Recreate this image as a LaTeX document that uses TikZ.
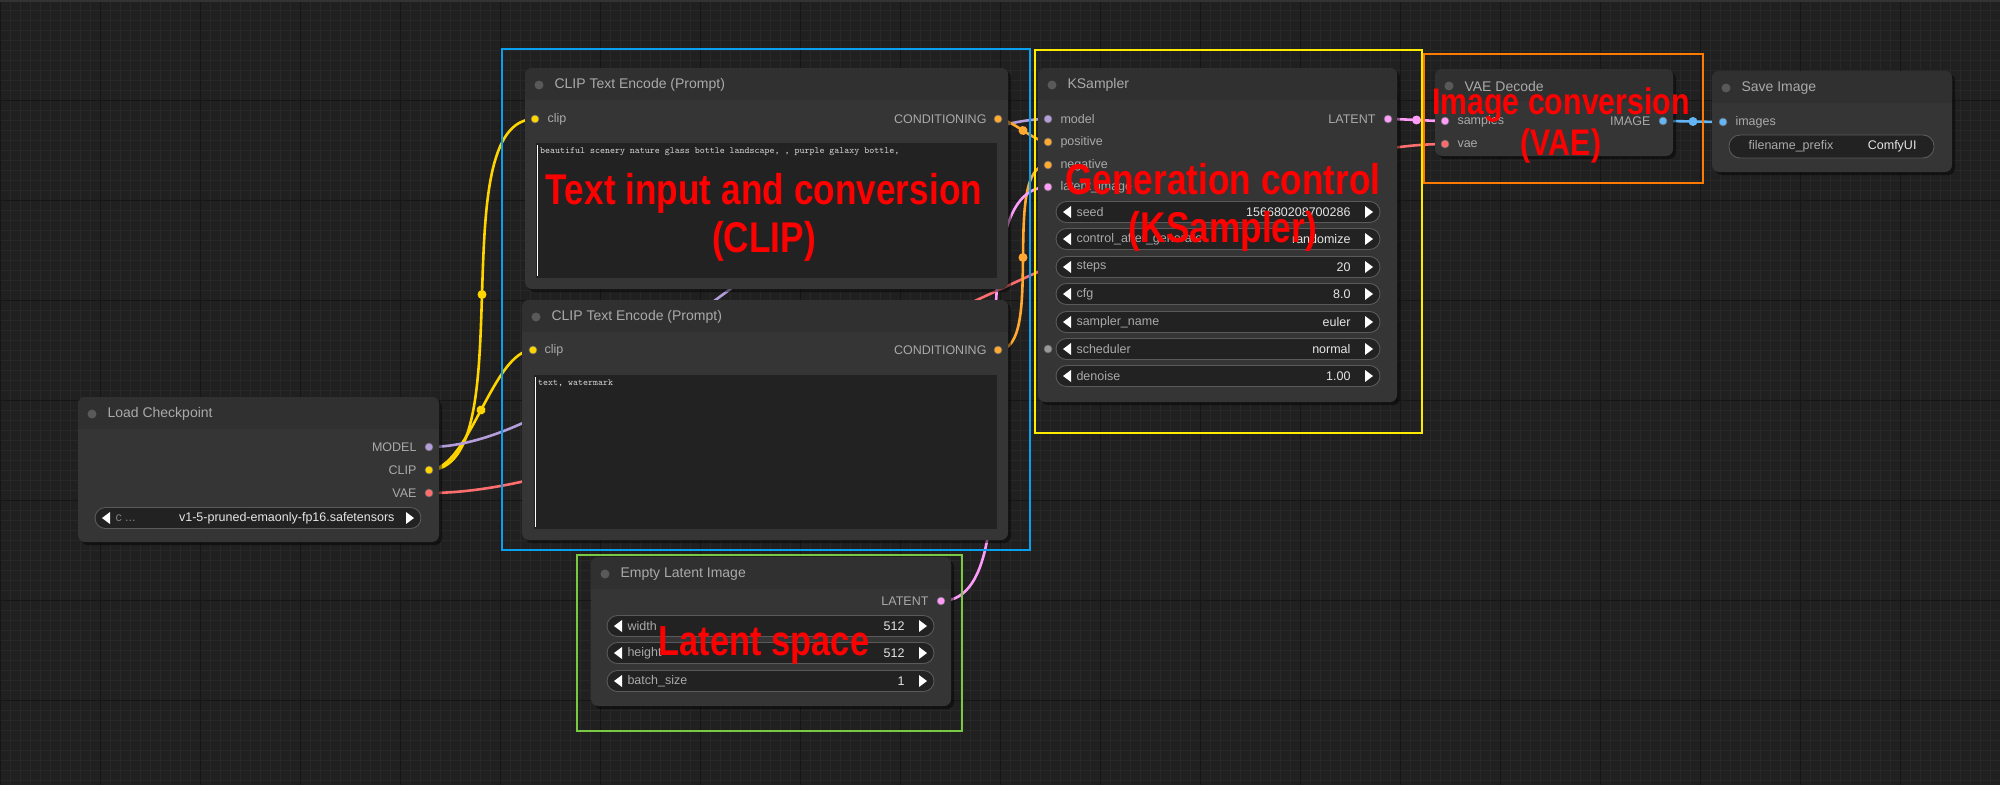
\documentclass[tikz,border=0pt]{standalone}
\usepackage{fontspec}
\setmainfont{Liberation Sans}
\usetikzlibrary{calc,decorations.markings}
\definecolor{bg}{HTML}{202020}
\definecolor{gridc}{HTML}{282828}
\definecolor{gridm}{HTML}{161616}
\definecolor{nbody}{HTML}{353535}
\definecolor{ntitle}{HTML}{303030}
\definecolor{wbg}{HTML}{222222}
\definecolor{wbd}{HTML}{5a5a5a}
\definecolor{ltxt}{HTML}{AAAAAA}
\definecolor{ctyellow}{HTML}{FFD500}
\definecolor{ctpurple}{HTML}{B39DDB}
\definecolor{ctred}{HTML}{FF6E6E}
\definecolor{ctorange}{HTML}{FFA931}
\definecolor{ctpink}{HTML}{FF9CF9}
\definecolor{ctblue}{HTML}{64B5F6}
\definecolor{gblue}{HTML}{0AA0F0}
\definecolor{gyellow}{HTML}{FFEB00}
\definecolor{gorange}{HTML}{FF7A00}
\definecolor{ggreen}{HTML}{7AC943}
\tikzset{
 wire/.style={line width=2.6pt,draw=#1,postaction={decorate},
   decoration={markings,mark=at position 0.5 with {\fill[#1] (0,0) circle (4.5);}}},
 port/.style={circle,inner sep=0pt,minimum size=8pt,fill=#1,draw=black!60,line width=0.6pt},
 ttl/.style={anchor=west,text=ltxt,font=\fontsize{14}{14}\selectfont},
 lin/.style={anchor=west,text=ltxt,font=\fontsize{12.5}{12.5}\selectfont},
 lout/.style={anchor=east,text=ltxt,font=\fontsize{12.5}{12.5}\selectfont},
 grp/.style={line width=2.5pt,draw=#1},
 redtxt/.style={text=red,font=\fontsize{43}{48}\selectfont\bfseries,align=center},
}
\newcommand\cfnode[6]{% name x1 y1 x2 y2 title
 \fill[black,opacity=0.45,rounded corners=7] (#2+3,#3+3) rectangle (#4+3,#5+3);
 \fill[nbody,rounded corners=7] (#2,#3) rectangle (#4,#5);
 \fill[ntitle,rounded corners=7] (#2,#3) rectangle (#4,#3+32);
 \fill[ntitle] (#2,#3+20) rectangle (#4,#3+32);
 \fill[gray!70!black] (#2+14,#3+17) circle (4.5);
 \node[ttl] (#1) at (#2+26,#3+17) {#6};
}
\newcommand\cfwidget[6]{% name x1 x2 yc label value
 \draw[fill=wbg,draw=wbd,line width=0.9pt,rounded corners=10.5] (#2,#4-10.5) rectangle (#3,#4+10.5);
 \fill[white] (#2+7,#4) -- (#2+15,#4-6) -- (#2+15,#4+6) -- cycle;
 \fill[white] (#3-7,#4) -- (#3-15,#4-6) -- (#3-15,#4+6) -- cycle;
 \node[lin] (#1) at (#2+17,#4) {#5};
 \node[anchor=east,text=white!90!black,font=\fontsize{12.5}{12.5}\selectfont] at (#3-26,#4) {#6};
}
\begin{document}
\begin{tikzpicture}[x=1pt,y=-1pt]
\useasboundingbox (0,0) rectangle (2000,785);
\fill[bg] (0,0) rectangle (2000,785);
\foreach \i in {0,10,...,2000} \draw[gridc,line width=0.8pt] (\i,0) -- (\i,785);
\foreach \j in {0,10,...,780} \draw[gridc,line width=0.8pt] (0,\j) -- (2000,\j);
\foreach \i in {0,100,...,2000} \draw[gridm,line width=1pt] (\i,0) -- (\i,785);
\foreach \j in {0,100,...,700} \draw[gridm,line width=1pt] (0,\j) -- (2000,\j);
\draw[gray!40!black,line width=1.5pt] (0,1) -- (2000,1);

% port coordinates
\coordinate (lcmodel) at (429,447);
\coordinate (lcclip) at (429,470);
\coordinate (lcvae) at (429,493);
\coordinate (c1clip) at (535,119);
\coordinate (c1cond) at (998,119);
\coordinate (c2clip) at (533,350);
\coordinate (c2cond) at (998,350);
\coordinate (ksmodel) at (1048,119);
\coordinate (kspos) at (1048,142);
\coordinate (ksneg) at (1048,165);
\coordinate (kslat) at (1048,187);
\coordinate (kslatout) at (1388,119);
\coordinate (ellat) at (941,601);
\coordinate (vdsamp) at (1445,121);
\coordinate (vdvae) at (1445,144);
\coordinate (vdimg) at (1663,121);
\coordinate (siimg) at (1723,122);

% wires
\draw[wire=ctyellow] (lcclip) .. controls ($(lcclip)+(95,0)$) and ($(c1clip)-(95,0)$) .. (c1clip);
\draw[wire=ctyellow] (lcclip) .. controls ($(lcclip)+(40,0)$) and ($(c2clip)-(40,0)$) .. (c2clip);
\draw[wire=ctpurple] (lcmodel) .. controls ($(lcmodel)+(175,0)$) and ($(ksmodel)-(175,0)$) .. (ksmodel);
\draw[wire=ctred] (lcvae) .. controls ($(lcvae)+(265,0)$) and ($(vdvae)-(265,0)$) .. (vdvae);
\draw[wire=ctorange] (c1cond) .. controls ($(c1cond)+(14,0)$) and ($(kspos)-(14,0)$) .. (kspos);
\draw[wire=ctorange] (c2cond) .. controls ($(c2cond)+(48,0)$) and ($(ksneg)-(48,0)$) .. (ksneg);
\draw[wire=ctpink] (ellat) .. controls ($(ellat)+(107,0)$) and ($(kslat)-(107,0)$) .. (kslat);
\draw[wire=ctpink] (kslatout) .. controls ($(kslatout)+(14,0)$) and ($(vdsamp)-(14,0)$) .. (vdsamp);
\draw[wire=ctblue] (vdimg) .. controls ($(vdimg)+(15,0)$) and ($(siimg)-(15,0)$) .. (siimg);

% Load Checkpoint
\cfnode{lc}{78}{397}{439}{542}{Load Checkpoint}
\node[lout] at (420,447) {MODEL};
\node[lout] at (420,470) {CLIP};
\node[lout] at (420,493) {VAE};
\node[port=ctpurple] at (lcmodel) {};
\node[port=ctyellow] at (lcclip) {};
\node[port=ctred] at (lcvae) {};
\draw[fill=wbg,draw=wbd,line width=0.9pt,rounded corners=10.5] (95,507.5) rectangle (421,528.5);
\fill[white] (102,518) -- (110,512) -- (110,524) -- cycle;
\fill[white] (414,518) -- (406,512) -- (406,524) -- cycle;
\node[anchor=west,text=gray,font=\fontsize{12.5}{12.5}\selectfont] (lcc) at (112,518) {c ...};
\node[anchor=east,text=white!90!black,font=\fontsize{12.5}{12.5}\selectfont] (lcv) at (398,518) {v1-5-pruned-emaonly-fp16.safetensors};

% CLIP Text Encode 1
\cfnode{c1}{525}{68}{1008}{289}{CLIP Text Encode (Prompt)}
\node[lin] at (544,119) {clip};
\node[lout] at (990,119) {CONDITIONING};
\node[port=ctyellow] at (c1clip) {};
\node[port=ctorange] at (c1cond) {};
\fill[wbg] (536,143) rectangle (997,278);
\draw[white,line width=1pt] (537,145) -- (537,276);
\node[anchor=north west,text=white!85!black,font=\fontsize{9.5}{10}\ttfamily,inner sep=1pt] (c1t) at (539,146) {beautiful scenery nature glass bottle landscape, , purple galaxy bottle,};

% CLIP Text Encode 2
\cfnode{c2}{522}{300}{1008}{540}{CLIP Text Encode (Prompt)}
\node[lin] at (541,350) {clip};
\node[lout] at (990,350) {CONDITIONING};
\node[port=ctyellow] at (c2clip) {};
\node[port=ctorange] at (c2cond) {};
\fill[wbg] (534,375) rectangle (997,529);
\draw[white,line width=1pt] (535,377) -- (535,527);
\node[anchor=north west,text=white!85!black,font=\fontsize{9.5}{10}\ttfamily,inner sep=1pt] (c2t) at (537,378) {text, watermark};

% Empty Latent Image
\cfnode{el}{591}{557}{951}{706}{Empty Latent Image}
\node[lout] at (932,601) {LATENT};
\node[port=ctpink] at (ellat) {};
\cfwidget{elw}{607}{934}{626}{width}{512}
\cfwidget{elh}{607}{934}{653}{height}{512}
\cfwidget{elb}{607}{934}{681}{batch\_size}{1}

% KSampler
\cfnode{ks}{1038}{68}{1397}{402}{KSampler}
\node[lin] at (1057,119) {model};
\node[lin] at (1057,142) {positive};
\node[lin] at (1057,165) {negative};
\node[lin] at (1057,187) {latent\_image};
\node[lout] at (1379,119) {LATENT};
\node[port=ctpurple] at (ksmodel) {};
\node[port=ctorange] at (kspos) {};
\node[port=ctorange] at (ksneg) {};
\node[port=ctpink] at (kslat) {};
\node[port=ctpink] at (kslatout) {};
\cfwidget{ks1}{1056}{1380}{212}{seed}{156680208700286}
\cfwidget{ks2}{1056}{1380}{239}{control\_after\_generate}{randomize}
\cfwidget{ks3}{1056}{1380}{267}{steps}{20}
\cfwidget{ks4}{1056}{1380}{294}{cfg}{8.0}
\cfwidget{ks5}{1056}{1380}{322}{sampler\_name}{euler}
\cfwidget{ks6}{1056}{1380}{349}{scheduler}{normal}
\cfwidget{ks7}{1056}{1380}{376}{denoise}{1.00}
\node[port=gray!80] at (1048,349) {};

% VAE Decode
\cfnode{vd}{1435}{69}{1673}{156}{VAE Decode}
\node[lin] at (1454,121) {samples};
\node[lin] at (1454,144) {vae};
\node[lout] at (1654,121) {IMAGE};
\node[port=ctpink] at (vdsamp) {};
\node[port=ctred] at (vdvae) {};
\node[port=ctblue] at (vdimg) {};

% Save Image
\cfnode{si}{1712}{71}{1952}{172}{Save Image}
\node[lin] at (1732,122) {images};
\node[port=ctblue] at (siimg) {};
\draw[fill=wbg,draw=wbd,line width=0.9pt,rounded corners=11] (1729,135) rectangle (1934,158);
\node[anchor=west,text=ltxt,font=\fontsize{12.5}{12.5}\selectfont] (sif) at (1745,146.5) {filename\_prefix};
\node[anchor=east,text=white!90!black,font=\fontsize{12.5}{12.5}\selectfont] (sic) at (1920,146.5) {ComfyUI};

% groups
\draw[grp=gblue] (502,49) rectangle (1030,550);
\draw[grp=gyellow] (1035,50) rectangle (1422,433);
\draw[grp=gorange] (1424,54) rectangle (1703,183);
\draw[grp=ggreen] (577,555) rectangle (962,731);

\node[redtxt] (t1) at (764,217) {\scalebox{0.82}[1]{Text input and conversion}\\[0pt]\scalebox{0.82}[1]{(CLIP)}};
\node[redtxt] (t2) at (1223,207) {\scalebox{0.82}[1]{Generation control}\\[0pt]\scalebox{0.82}[1]{(KSampler)}};
\node[redtxt,font=\fontsize{37}{41}\selectfont\bfseries] (t3) at (1561,125) {\scalebox{0.82}[1]{Image conversion}\\[0pt]\scalebox{0.82}[1]{(VAE)}};
\node[redtxt,font=\fontsize{42}{46}\selectfont\bfseries] (t4) at (764,645) {\scalebox{0.82}[1]{Latent space}};
\end{tikzpicture}
\end{document}
